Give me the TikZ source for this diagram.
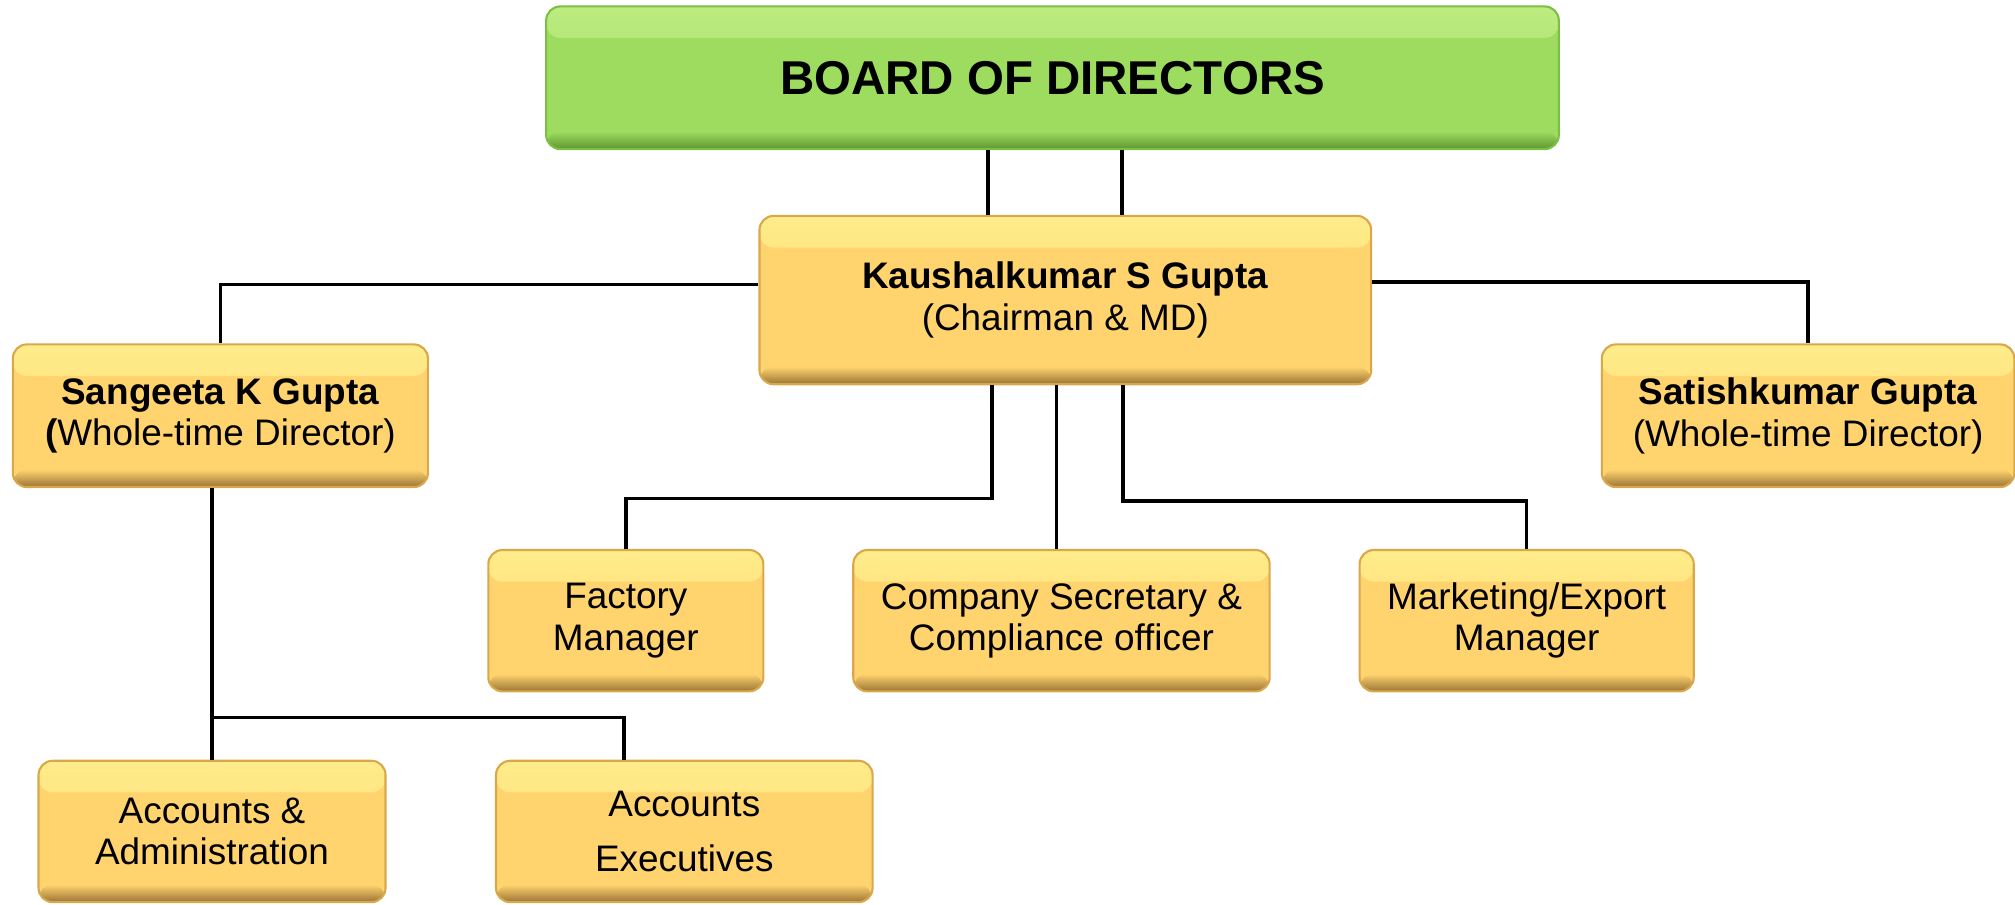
\documentclass[tikz,border=0pt]{standalone}
\usepackage{fontspec}
\setmainfont{Liberation Sans}
\usepackage{xcolor}
\definecolor{boxfill}{HTML}{FFD36E}
\definecolor{boxhi}{HTML}{FFEC8A}
\definecolor{boxlo}{HTML}{9A7436}
\definecolor{boxedge}{HTML}{D9A84A}
\definecolor{boardfill}{HTML}{9DDC5F}
\definecolor{boardhi}{HTML}{BDEB80}
\definecolor{boardlo}{HTML}{5E9630}
\definecolor{boardedge}{HTML}{7CBF45}

\tikzset{
  bevel/.style n args={3}{fill=#1, rounded corners=4pt, line width=0.6pt,
    path picture={
      \shade[top color=#2, bottom color=#1] (path picture bounding box.north west) rectangle ([yshift=-9pt]path picture bounding box.north east);
      \shade[top color=#1, bottom color=#3] ([yshift=5pt]path picture bounding box.south west) rectangle (path picture bounding box.south east);
    }},
  orgbox/.style 2 args={bevel={boxfill}{boxhi}{boxlo}, draw=boxedge, align=center, inner sep=0pt,
    font=\fontsize{10.5}{11.8}\selectfont,
    minimum width=#1*0.01285cm, minimum height=#2*0.01285cm},
  boardbox/.style 2 args={bevel={boardfill}{boardhi}{boardlo}, draw=boardedge, align=center, inner sep=0pt,
    font=\fontsize{13.5}{15}\selectfont\bfseries,
    minimum width=#1*0.01285cm, minimum height=#2*0.01285cm},
  link/.style={draw=black, line width=1pt}
}

\begin{document}
\begin{tikzpicture}[x=0.01285cm, y=-0.01285cm]
% one pixel of the chart
\def\u{0.01285cm}

% fix the page to the chart size
\useasboundingbox (0,0) rectangle (1568,704);

% board at the top
\node[boardbox={788}{111}] (board) at (819,60.5) {BOARD OF DIRECTORS};

% chairman and the two whole-time directors
\node[orgbox={476}{131}] (kg) at (829,233.5) {\textbf{Kaushalkumar S Gupta}\\(Chairman \& MD)};
\node[orgbox={323}{111}] (sk) at (171.5,323.5) {\textbf{Sangeeta K Gupta}\\\textbf{(}Whole-time Director)};
\node[orgbox={321}{111}] (sg) at (1407,323.5) {\textbf{Satishkumar Gupta}\\(Whole-time Director)};

% managers under the chairman
\node[orgbox={214}{110}] (fm) at (487,483) {Factory\\Manager};
\node[orgbox={324}{110}] (cs) at (826,483) {Company Secretary \&\\Compliance officer};
\node[orgbox={260}{110}] (mk) at (1188,483) {Marketing/Export\\Manager};

% accounts under Sangeeta
\node[orgbox={270}{110}] (aa) at (165,647) {Accounts \&\\Administration};
\node[orgbox={293}{110}] (ae) at (532.5,647) {Accounts\\[4pt]Executives};

% board to chairman
\draw[link] ([xshift=-60*\u]kg.north) -- ([xshift=-60*\u]kg.north |- board.south);
\draw[link] ([xshift=44*\u]kg.north) -- ([xshift=44*\u]kg.north |- board.south);

% chairman to directors
\draw[link] ([yshift=12*\u]kg.west) -| (sk.north);
\draw[link] ([yshift=14*\u]kg.east) -| (sg.north);

% chairman to managers
\draw[link] ([xshift=-57*\u]kg.south) -- ++(0,-88*\u) -| (fm.north);
\draw[link] ([xshift=-4*\u]cs.north) -- ([xshift=-4*\u]cs.north |- kg.south);
\draw[link] ([xshift=45*\u]kg.south) -- ++(0,-90*\u) -| (mk.north);

% Sangeeta to accounts
\draw[link] (aa.north) -- (aa.north |- sk.south);
\draw[link] ([yshift=33*\u]aa.north) -| ([xshift=-47*\u]ae.north);

\end{tikzpicture}
\end{document}
